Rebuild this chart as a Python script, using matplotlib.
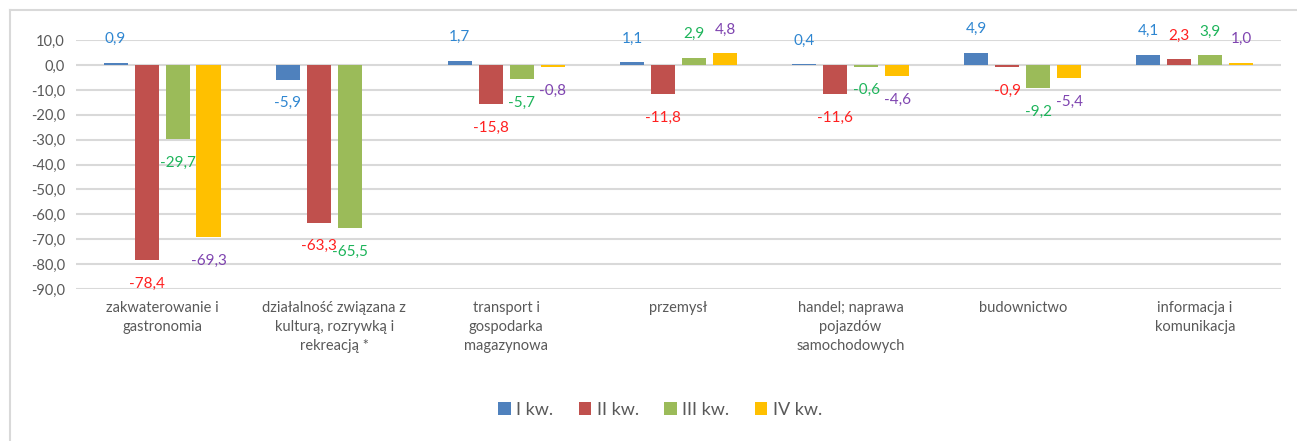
import numpy as np
import matplotlib.pyplot as plt
from matplotlib.lines import Line2D

# dane
kategorie = ['zakwaterowanie i\ngastronomia',
             'działalność związana z\nkulturą, rozrywką i\nrekreacją *',
             'transport i\ngospodarka\nmagazynowa',
             'przemysł',
             'handel; naprawa\npojazdów\nsamochodowych',
             'budownictwo',
             'informacja i\nkomunikacja']
kw1 = [0.9, -5.9, 1.7, 1.1, 0.4, 4.9, 4.1]
kw2 = [-78.4, -63.3, -15.8, -11.8, -11.6, -0.9, 2.3]
kw3 = [-29.7, -65.5, -5.7, 2.9, -0.6, -9.2, 3.9]
kw4 = [-69.3, None, -0.8, 4.8, -4.6, -5.4, 1.0]
serie = ['I kw.', 'II kw.', 'III kw.', 'IV kw.']

kolory = ['#4F81BD', '#C0504D', '#9BBB59', '#FFC000']
kolory_etykiet = ['#2E86D1', '#FF2020', '#1DB45A', '#7F44B0']

plt.rcParams['font.family'] = ['Lato', 'DejaVu Sans']

fig = plt.figure(figsize=(12.97, 4.41), dpi=100)
ax = fig.add_axes([0.0586, 0.3447, 0.929, 0.5643])

x = np.arange(len(kategorie))
szer = 0.14
krok = 0.18

for i, (wart, nazwa) in enumerate(zip([kw1, kw2, kw3, kw4], serie)):
    pos = x + (i - 1.5) * krok
    v = np.array([np.nan if w is None else w for w in wart], dtype=float)
    ax.bar(pos, np.nan_to_num(v), width=szer, color=kolory[i], label=nazwa, zorder=3)
    for xp, w in zip(pos, wart):
        if w is None:
            continue
        off = 17 if w >= 0 else -17
        ax.annotate(f'{w:.1f}'.replace('.', ','), (xp, w), xytext=(0, off),
                    textcoords='offset points', ha='center', va='center',
                    fontsize=11, color=kolory_etykiet[i], zorder=4)

ax.set_ylim(-90, 10)
ax.set_xlim(-0.5, len(kategorie) - 0.5)
ax.set_yticks(np.arange(-90, 11, 10))
ax.set_yticklabels([f'{t:.1f}'.replace('.', ',') for t in np.arange(-90, 11, 10)])
ax.set_xticks(x)
ax.set_xticklabels(kategorie, fontsize=10.5, linespacing=1.45, color='#595959')
ax.tick_params(axis='y', length=0, labelsize=10.5, labelcolor='#595959', pad=8)
ax.tick_params(axis='x', length=0, pad=9)
ax.grid(axis='y', color='#D9D9D9', linewidth=1.5, zorder=0)
for s in ax.spines.values():
    s.set_visible(False)

ax.legend(loc='center', bbox_to_anchor=(0.509, 0.07), bbox_transform=fig.transFigure,
          ncol=4, frameon=False, fontsize=13, handlelength=0.7, handleheight=0.7,
          handletextpad=0.3, columnspacing=1.4, labelcolor='#595959')

# ramka wykresu (przycięta u góry i po lewej)
fig.lines.append(Line2D([0.0077, 1.0], [0.977, 0.977], transform=fig.transFigure,
                        color='#D9D9D9', linewidth=1.5))
fig.lines.append(Line2D([0.0077, 0.0077], [0.0, 0.977], transform=fig.transFigure,
                        color='#D9D9D9', linewidth=1.5))

plt.savefig('out.png', dpi=100)
